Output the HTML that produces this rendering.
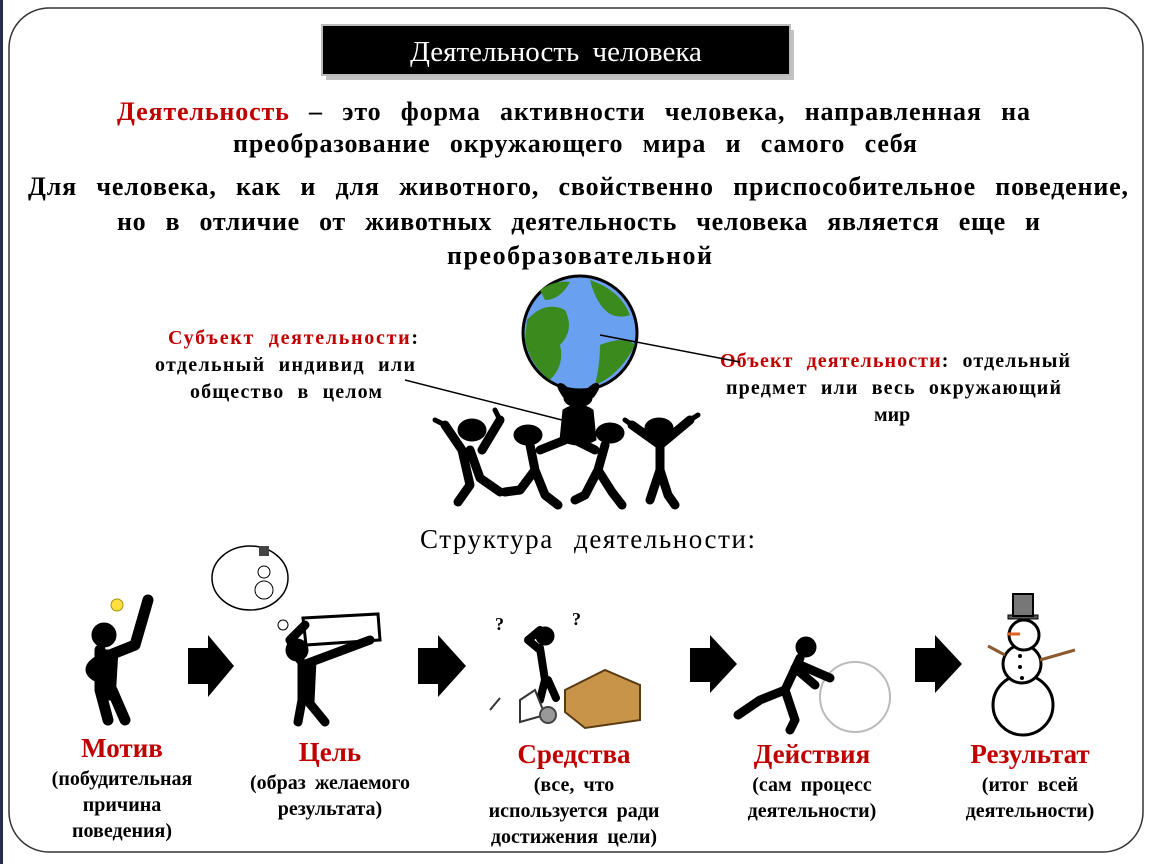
<!DOCTYPE html>
<html><head><meta charset="utf-8"><style>
html,body{margin:0;padding:0;background:#fff;}
svg{display:block;}
text{font-family:"Liberation Serif",serif;font-weight:bold;}
.p{font-size:26px;word-spacing:12px;}
.s{font-size:20px;word-spacing:7px;}
.b{font-size:20px;word-spacing:4px;}
</style></head><body>
<svg width="1150" height="864" viewBox="0 0 1150 864" xmlns="http://www.w3.org/2000/svg">
<rect x="0" y="0" width="1150" height="864" fill="#fff"/>
<rect x="0" y="0" width="3" height="864" fill="#2a2d4a"/>
<rect x="9" y="8" width="1134" height="844" rx="40" fill="none" stroke="#333" stroke-width="1.5"/>
<!-- title -->
<rect x="326" y="30" width="468" height="50" fill="#999" opacity="0.6"/>
<rect x="322" y="25" width="468" height="50" fill="#000" stroke="#bbb" stroke-width="2"/>
<text x="556" y="61" font-size="29" fill="#fff" text-anchor="middle" style="font-weight:normal;word-spacing:6px">Деятельность человека</text>
<!-- paragraphs -->
<text class="p" x="117" y="120" textLength="913" lengthAdjust="spacing"><tspan fill="#c00000">Деятельность</tspan> – это форма активности человека, направленная на</text>
<text class="p" x="233" y="152" textLength="684" lengthAdjust="spacing">преобразование окружающего мира и самого себя</text>
<text class="p" x="28" y="195" textLength="1100" lengthAdjust="spacing">Для человека, как и для животного, свойственно приспособительное поведение,</text>
<text class="p" x="117" y="230" textLength="923" lengthAdjust="spacing">но в отличие от животных деятельность человека является еще и</text>
<text class="p" x="447" y="264" textLength="265" lengthAdjust="spacing">преобразовательной</text>
<!-- subject/object -->
<text class="s" x="168" y="344" textLength="250" lengthAdjust="spacing"><tspan fill="#c00000">Субъект деятельности</tspan>:</text>
<text class="s" x="155" y="371" textLength="260" lengthAdjust="spacing">отдельный индивид или</text>
<text class="s" x="190" y="398" textLength="192" lengthAdjust="spacing">общество в целом</text>
<text class="s" x="720" y="367" textLength="350" lengthAdjust="spacing"><tspan fill="#c00000">Объект деятельности</tspan>: отдельный</text>
<text class="s" x="726" y="394" textLength="335" lengthAdjust="spacing">предмет или весь окружающий</text>
<text class="s" x="874" y="421">мир</text>
<!-- globe -->
<circle cx="580" cy="333" r="57" fill="#6aa0f0" stroke="#000" stroke-width="3"/>
<path d="M527 320 Q545 300 565 310 Q575 330 560 345 Q565 365 550 380 Q530 365 525 340Z" fill="#3a8a1e"/>
<path d="M540 290 Q555 280 570 282 Q560 300 545 300Z" fill="#3a8a1e"/>
<path d="M590 280 Q620 290 630 315 Q615 320 605 310 Q595 300 590 280Z" fill="#3a8a1e"/>
<path d="M600 345 Q625 335 635 345 Q620 375 595 385 Q600 365 600 345Z" fill="#3a8a1e"/>
<line x1="600" y1="335" x2="740" y2="362" stroke="#000" stroke-width="1.5"/>
<line x1="405" y1="380" x2="562" y2="420" stroke="#000" stroke-width="1.5"/>
<!-- people group -->
<g fill="#000" stroke="#000" stroke-linecap="round" stroke-linejoin="round">
<ellipse cx="578" cy="398" rx="14" ry="9"/>
<path d="M565 395 Q555 380 566 390 M592 395 Q602 380 590 390" stroke-width="6" fill="none"/>
<path d="M563 410 Q578 400 593 410 L596 440 Q578 450 560 440Z"/>
<ellipse cx="472" cy="430" rx="14" ry="11"/>
<path d="M445 425 L462 450 L470 485 L458 502 M470 450 L480 478 L500 492 M500 420 L482 450" stroke-width="9" fill="none"/>
<path d="M435 420 L445 425 M495 410 L500 420" stroke-width="5" fill="none"/>
<ellipse cx="528" cy="435" rx="14" ry="10"/>
<path d="M530 445 L535 470 L520 490 L505 492 M535 470 L545 495 L558 505 M540 450 L565 440" stroke-width="9" fill="none"/>
<ellipse cx="610" cy="433" rx="14" ry="10"/>
<path d="M605 445 L598 470 L585 495 L575 500 M598 470 L612 492 L622 505 M595 450 L575 440" stroke-width="9" fill="none"/>
<ellipse cx="659" cy="428" rx="14" ry="10"/>
<path d="M660 440 L660 470 L650 500 M660 470 L668 495 L675 505 M660 445 L632 425 M660 445 L690 420" stroke-width="9" fill="none"/>
<path d="M625 420 L632 425 M698 415 L690 420" stroke-width="5" fill="none"/>
</g>
<text class="p" x="420" y="548" textLength="335" lengthAdjust="spacing" style="font-weight:normal;font-size:27px">Структура деятельности:</text>
<!-- arrows -->
<g fill="#000">
<path d="M188 648 L208 648 L208 635 L234 666 L208 697 L208 684 L188 684Z"/>
<path d="M418 648 L438 648 L438 635 L466 666 L438 697 L438 684 L418 684Z"/>
<path d="M690 648 L710 648 L710 635 L737 664 L710 693 L710 682 L690 682Z"/>
<path d="M915 648 L935 648 L935 635 L962 664 L935 693 L935 682 L915 682Z"/>
</g>
<!-- figure 1 motive -->
<g fill="#000" stroke="#000" stroke-linecap="round" stroke-linejoin="round">
<circle cx="104" cy="635" r="12"/>
<path d="M100 650 L100 690 L108 720 M112 690 L125 720 M100 660 Q82 670 100 678 M110 655 L135 645 L148 600" stroke-width="11" fill="none"/>
<path d="M97 650 L118 650 L115 700 L98 700Z"/>
</g>
<circle cx="117" cy="605" r="6" fill="#ffe040" stroke="#aa9000"/>
<!-- figure 2 goal -->
<g>
<ellipse cx="250" cy="578" rx="38" ry="32" fill="#fff" stroke="#000" stroke-width="1.5"/>
<circle cx="264" cy="572" r="6" fill="#fff" stroke="#000"/><circle cx="264" cy="590" r="9" fill="#fff" stroke="#000"/>
<rect x="259" y="546" width="10" height="10" fill="#444"/>
<circle cx="283" cy="625" r="5" fill="#fff" stroke="#000"/>
<path d="M303 618 L378 614 L380 640 L306 645Z" fill="#fff" stroke="#000" stroke-width="3"/>
<g fill="#000" stroke="#000" stroke-linecap="round" stroke-linejoin="round">
<circle cx="297" cy="650" r="11"/>
<path d="M303 665 L370 640 M300 660 L290 640 L305 625 M305 670 L302 700 L298 722 M307 700 L325 722" stroke-width="9" fill="none"/>
<path d="M298 660 L316 660 L314 702 L298 702Z"/>
</g></g>
<!-- figure 3 means -->
<g fill="#000" stroke="#000" stroke-linecap="round" stroke-linejoin="round">
<circle cx="545" cy="636" r="9"/>
<path d="M540 648 L545 680 L540 700 M548 680 L556 698 M540 650 L528 640 L540 630" stroke-width="8" fill="none"/>
</g>
<path d="M565 690 L605 670 L640 685 L640 720 L585 728 L565 712Z" fill="#c8944a" stroke="#5a3a10" stroke-width="2"/>
<path d="M490 710 L500 698 M520 700 L535 690 L545 715 L520 722Z" fill="#fff" stroke="#333" stroke-width="2"/>
<circle cx="548" cy="715" r="8" fill="#999" stroke="#444" stroke-width="2"/>
<text x="495" y="630" font-size="18">?</text><text x="572" y="625" font-size="18">?</text>
<!-- figure 4 action -->
<circle cx="855" cy="697" r="35" fill="#fff" stroke="#bbb" stroke-width="2"/>
<g fill="#000" stroke="#000" stroke-linecap="round" stroke-linejoin="round">
<circle cx="806" cy="647" r="10"/>
<path d="M800 658 L785 690 L760 700 L738 715 M785 690 L795 720 L790 730 M800 665 L830 678 M795 668 L815 685" stroke-width="9" fill="none"/>
</g>
<!-- snowman -->
<circle cx="1023" cy="705" r="30" fill="#fff" stroke="#000" stroke-width="3"/>
<circle cx="1022" cy="664" r="19" fill="#fff" stroke="#000" stroke-width="3"/>
<circle cx="1024" cy="635" r="15" fill="#fff" stroke="#000" stroke-width="3"/>
<rect x="1008" y="615" width="30" height="4" fill="#555" stroke="#000"/>
<rect x="1013" y="594" width="20" height="22" fill="#777" stroke="#000" stroke-width="2"/>
<line x1="1008" y1="634" x2="1020" y2="634" stroke="#e06020" stroke-width="3"/>
<path d="M1005 655 L988 646 M1040 660 L1075 650" stroke="#8a5a30" stroke-width="3"/>
<circle cx="1020" cy="656" r="2"/><circle cx="1020" cy="667" r="2"/><circle cx="1022" cy="678" r="2"/>
<!-- labels -->
<g text-anchor="middle">
<text x="122" y="757" font-size="27" fill="#c00000">Мотив</text>
<text class="b" x="122" y="785">(побудительная</text>
<text class="b" x="122" y="811">причина</text>
<text class="b" x="122" y="837">поведения)</text>
<text x="330" y="761" font-size="27" fill="#c00000">Цель</text>
<text class="b" x="330" y="789">(образ желаемого</text>
<text class="b" x="330" y="815">результата)</text>
<text x="574" y="763" font-size="27" fill="#c00000">Средства</text>
<text class="b" x="574" y="791">(все, что</text>
<text class="b" x="574" y="817">используется ради</text>
<text class="b" x="574" y="843">достижения цели)</text>
<text x="812" y="763" font-size="27" fill="#c00000">Действия</text>
<text class="b" x="812" y="791">(сам процесс</text>
<text class="b" x="812" y="817">деятельности)</text>
<text x="1030" y="763" font-size="27" fill="#c00000">Результат</text>
<text class="b" x="1030" y="791">(итог всей</text>
<text class="b" x="1030" y="817">деятельности)</text>
</g>
</svg>
</body></html>
